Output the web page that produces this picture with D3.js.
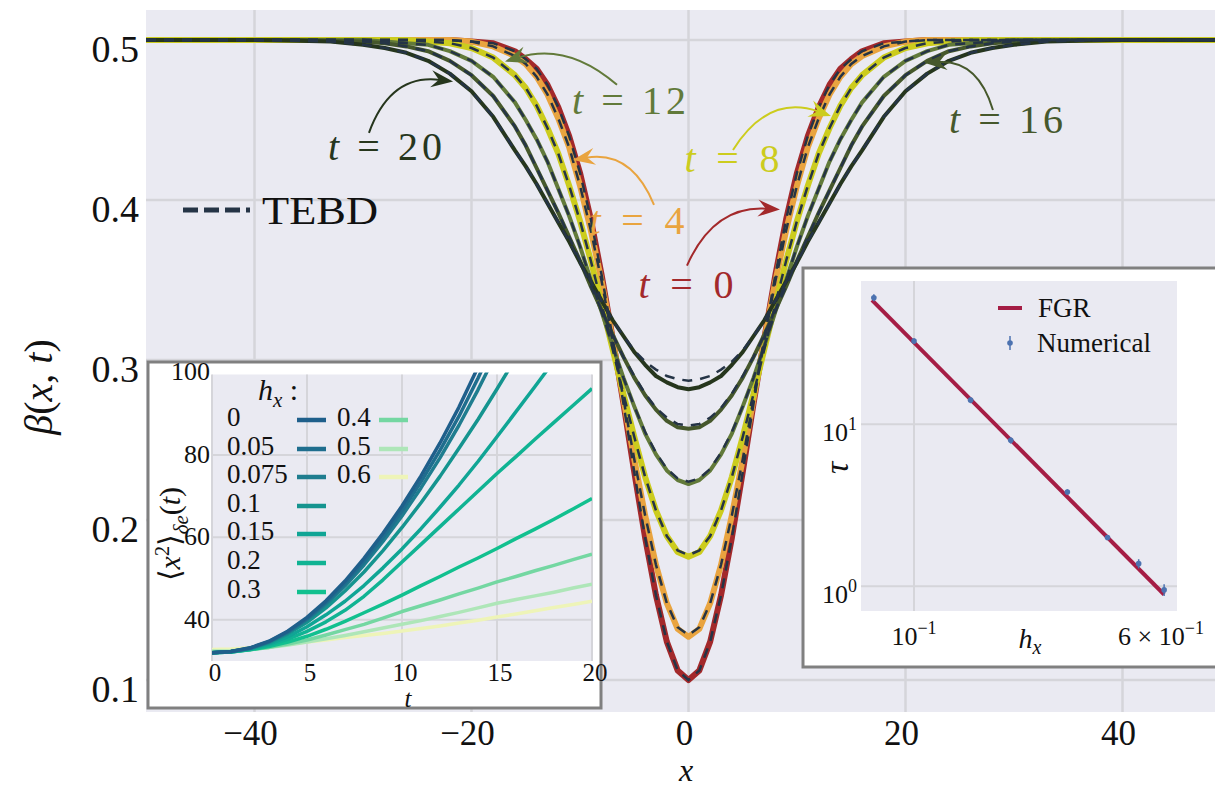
<!DOCTYPE html>
<html>
<head>
<meta charset="utf-8">
<script src="https://cdn.jsdelivr.net/npm/d3@7"></script>
<style>
body{margin:0;background:#fff;}
svg text{font-family:"Liberation Serif","DejaVu Serif",serif;fill:#111;}
</style>
</head>
<body>
<div id="chart"></div>
<script>
// ---------------- data ----------------
// profile beta(x,t), x >= 0 (profiles are symmetric in x)
var xHalf   = [0,1,2,3,4,5,6,7,8,9,10,11,12,13,14,15,16,18,20,22,24,26,28,30,33,36,40,50];
var beta_t0  = [0.100,0.106,0.124,0.153,0.189,0.230,0.273,0.314,0.353,0.388,0.417,0.440,0.458,0.472,0.482,0.488,0.493,0.498,0.499,0.500,0.500,0.500,0.500,0.500,0.500,0.500,0.500,0.500];
var beta_t4  = [0.127,0.132,0.148,0.172,0.203,0.238,0.276,0.313,0.349,0.381,0.409,0.433,0.451,0.466,0.477,0.485,0.490,0.496,0.499,0.500,0.500,0.500,0.500,0.500,0.500,0.500,0.500,0.500];
var beta_t8  = [0.177,0.180,0.190,0.206,0.227,0.252,0.279,0.307,0.335,0.362,0.387,0.409,0.429,0.445,0.459,0.470,0.478,0.489,0.495,0.498,0.499,0.500,0.500,0.500,0.500,0.500,0.500,0.500];
var beta_t12 = [0.2225,0.225,0.231,0.241,0.254,0.271,0.289,0.309,0.330,0.350,0.371,0.390,0.407,0.424,0.438,0.450,0.461,0.477,0.487,0.493,0.497,0.498,0.499,0.500,0.500,0.500,0.500,0.500];
var beta_t16 = [0.257,0.258,0.262,0.269,0.278,0.289,0.302,0.316,0.331,0.346,0.362,0.377,0.392,0.406,0.420,0.434,0.446,0.465,0.478,0.487,0.493,0.496,0.498,0.499,0.4995,0.500,0.500,0.500];
var beta_t20 = [0.2817,0.283,0.286,0.290,0.297,0.305,0.315,0.325,0.337,0.349,0.361,0.374,0.386,0.398,0.410,0.421,0.431,0.452,0.468,0.479,0.487,0.492,0.495,0.497,0.499,0.4995,0.500,0.500];
// TEBD curves (dashed)
var tebd_t0  = [0.100,0.106,0.124,0.153,0.189,0.230,0.273,0.314,0.353,0.388,0.417,0.440,0.458,0.472,0.482,0.488,0.493,0.498,0.499,0.500,0.500,0.500,0.500,0.500,0.500,0.500,0.500,0.500];
var tebd_t4  = [0.128,0.133,0.148,0.172,0.203,0.238,0.276,0.313,0.349,0.381,0.409,0.433,0.451,0.466,0.477,0.485,0.490,0.496,0.499,0.500,0.500,0.500,0.500,0.500,0.500,0.500,0.500,0.500];
var tebd_t8  = [0.178,0.181,0.190,0.206,0.227,0.252,0.279,0.307,0.335,0.362,0.387,0.409,0.429,0.445,0.459,0.470,0.478,0.489,0.495,0.498,0.499,0.500,0.500,0.500,0.500,0.500,0.500,0.500];
var tebd_t12 = [0.224,0.226,0.232,0.242,0.255,0.271,0.289,0.309,0.330,0.350,0.371,0.390,0.407,0.424,0.438,0.450,0.461,0.477,0.487,0.493,0.497,0.498,0.499,0.500,0.500,0.500,0.500,0.500];
var tebd_t16 = [0.259,0.260,0.264,0.270,0.279,0.290,0.302,0.316,0.331,0.346,0.362,0.377,0.392,0.406,0.420,0.434,0.446,0.465,0.478,0.487,0.493,0.496,0.498,0.499,0.4995,0.500,0.500,0.500];
var tebd_t20 = [0.287,0.288,0.290,0.294,0.299,0.306,0.315,0.325,0.337,0.349,0.361,0.374,0.386,0.398,0.410,0.421,0.431,0.452,0.468,0.479,0.487,0.492,0.495,0.497,0.499,0.4995,0.500,0.500];
var times    = [0,4,8,12,16,20];
var xTicks   = [-40,-20,0,20,40];
var yTicks   = [0.1,0.2,0.3,0.4,0.5];

// inset 1: <x^2>(t) for several h_x
var tGrid   = [0,1,2,3,4,5,6,7,8,9,10,11,12,13,14,15,16,17,18,19,20];
var hxLabels = ["0","0.05","0.075","0.1","0.15","0.2","0.3","0.4","0.5","0.6"];
var msd_h0    = [32.0,32.3,33.2,34.8,37.3,40.6,44.6,49.4,54.9,61.0,67.6,74.9,82.9,91.6,101.3,111.5];
var msd_h005  = [32.0,32.3,33.1,34.7,37.1,40.3,44.2,48.8,54.1,60.0,66.4,73.5,81.1,89.4,98.6,108.5];
var msd_h0075 = [32.0,32.3,33.1,34.6,36.9,40.0,43.8,48.2,53.3,59.0,65.2,72.0,79.3,87.2,95.8,105.0];
var msd_h01   = [32.0,32.3,33.0,34.4,36.6,39.4,42.9,47.0,51.6,56.8,62.4,68.4,74.8,81.6,88.6,96.0,103.6];
var msd_h015  = [32.0,32.2,32.9,34.1,35.9,38.3,41.2,44.5,48.3,52.6,57.2,62.1,67.3,72.7,78.4,84.4,90.5,96.6,102.8];
var msd_h02   = [32.0,32.2,32.8,33.8,35.3,37.2,39.5,42.3,45.7,49.7,54.0,58.3,62.6,66.9,71.2,75.5,79.6,83.8,87.9,92.0,96.1];
var msd_h03   = [32.0,32.2,32.7,33.5,34.6,36.0,37.7,39.6,41.7,43.8,46.0,48.3,50.5,52.8,55.0,57.3,59.7,62.0,64.4,66.9,69.4];
var msd_h04   = [32.2,32.3,32.7,33.3,34.1,35.1,36.3,37.6,38.9,40.4,42.0,43.4,44.8,46.3,47.7,49.2,50.5,51.9,53.2,54.6,55.9];
var msd_h05   = [32.4,32.5,32.8,33.3,33.9,34.6,35.4,36.2,37.1,38.0,38.9,39.8,40.8,41.8,42.9,44.0,44.9,45.8,46.7,47.7,48.6];
var msd_h06   = [32.8,32.9,33.2,33.6,34.1,34.6,35.1,35.7,36.2,36.7,37.3,37.9,38.5,39.2,39.9,40.7,41.4,42.2,43.0,43.7,44.5];
var msdTTicks = [0,5,10,15,20];
var msdYTicks = [40,60,80,100];

// inset 2: relaxation time tau vs h_x
var hxNum   = [0.075,0.1,0.15,0.2,0.3,0.4,0.5,0.6];
var tauNum  = [60.5,32.7,14.1,7.96,3.82,2.0,1.38,0.95];
var tauErr  = [3.0,1.3,0.6,0.35,0.15,0.07,0.09,0.08];
var hxFGR   = [0.074,0.6];
var tauFGR  = [58.5,0.89];

// ---------------- style / layout ----------------
var W=1215, H=789;
var BG="#eaeaf2", GRID="#d5d5da", FRAME="#808080";
var lineColors = ["#a3292b","#e9a43f","#cccc1e","#627a3a","#46582c","#26361d"];
var lineWidths = [6,6,6,4,4,4];
var tebdColor  = "#253446";
var hxColors = ["#1f5f8b","#1f6e8e","#1f7d8f","#15948f","#10a595","#10b393","#12c08f","#74d7a2","#aee6b8","#eef4b8"];
var annotations = [ // text and arrow anchors in data coordinates
    {t:"20", c:lineColors[5], tx:-27.97, ty:0.425, sx:-29.45, sy:0.442, ex:-21.7, ey:0.474, rad:0.4},
    {t:"12", c:lineColors[3], tx:-5.48,  ty:0.454, sx:-6.59,  sy:0.472, ex:-16.91,ey:0.4865,rad:-0.28},
    {t:"4",  c:lineColors[1], tx:-4.75,  ty:0.379, sx:-3.18,  sy:0.397, ex:-10.65,ey:0.425, rad:-0.4},
    {t:"0",  c:lineColors[0], tx:-0.23,  ty:0.339, sx:-0.14,  sy:0.359, ex:8.43,  ey:0.394, rad:0.35},
    {t:"8",  c:lineColors[2], tx:4.01,   ty:0.4175,sx:4.1,    sy:0.4313,ex:13.13, ey:0.4525,rad:0.4},
    {t:"16", c:lineColors[4], tx:29.26,  ty:0.442, sx:28.06,  sy:0.4563,ex:21.8,  ey:0.4856,rad:-0.4}
];

var svg=d3.select("#chart").append("svg").attr("width",W).attr("height",H);
var defs=svg.append("defs");

var mirror=function(xs,vs){
    var pts=[];
    for(var i=xs.length-1;i>0;i--) pts.push([-xs[i],vs[i]]);
    for(var j=0;j<xs.length;j++) pts.push([xs[j],vs[j]]);
    return pts;
};
var mathText=function(sel,parts){
    parts.forEach(function(p){
        var ts=sel.append("tspan").text(p.t).style("font-style",p.i?"italic":"normal");
        if(p.dy) ts.attr("dy",p.dy);
        if(p.s) ts.attr("font-size",p.s);
    });
    return sel;
};

// ---------------- main axes ----------------
var x=d3.scaleLinear().domain([-50,50]).range([146,1231]);
var y=d3.scaleLinear().domain([0.08,0.51875]).range([712,10]);

defs.append("clipPath").attr("id","clipMain").append("rect")
    .attr("x",x(-50)).attr("y",y(0.51875)).attr("width",x(50)-x(-50)).attr("height",y(0.08)-y(0.51875));

var main=svg.append("g");
main.append("rect").attr("x",x(-50)).attr("y",y(0.51875))
    .attr("width",x(50)-x(-50)).attr("height",y(0.08)-y(0.51875)).attr("fill",BG);
main.selectAll(".vgrid").data(xTicks).enter().append("line")
    .attr("x1",function(d){return x(d);}).attr("x2",function(d){return x(d);})
    .attr("y1",y(0.51875)).attr("y2",y(0.08)).attr("stroke",GRID).attr("stroke-width",2.5);
main.selectAll(".hgrid").data(yTicks).enter().append("line")
    .attr("x1",x(-50)).attr("x2",x(50))
    .attr("y1",function(d){return y(d);}).attr("y2",function(d){return y(d);})
    .attr("stroke",GRID).attr("stroke-width",2.5);

var lineMain=d3.line().x(function(d){return x(d[0]);}).y(function(d){return y(d[1]);});
var curves=[beta_t0,beta_t4,beta_t8,beta_t12,beta_t16,beta_t20];
var tebds=[tebd_t0,tebd_t4,tebd_t8,tebd_t12,tebd_t16,tebd_t20];
var plotG=main.append("g").attr("clip-path","url(#clipMain)");
curves.forEach(function(vs,i){
    plotG.append("path").attr("d",lineMain(mirror(xHalf,vs)))
        .attr("fill","none").attr("stroke",lineColors[i]).attr("stroke-width",lineWidths[i])
        .attr("stroke-linejoin","round");
});
tebds.forEach(function(vs){
    plotG.append("path").attr("d",lineMain(mirror(xHalf,vs)))
        .attr("fill","none").attr("stroke",tebdColor).attr("stroke-width",2.5)
        .attr("stroke-dasharray","10,8");
});

// tick labels
main.selectAll(".xtl").data(xTicks).enter().append("text")
    .attr("x",function(d){return x(d)-4;}).attr("y",745)
    .attr("text-anchor","middle").attr("font-size",35)
    .text(function(d){return d<0?"\u2212"+Math.abs(d):String(d);});
main.selectAll(".ytl").data(yTicks).enter().append("text")
    .attr("x",139).attr("y",function(d){return y(d)+13;})
    .attr("text-anchor","end").attr("dominant-baseline","middle").attr("font-size",38)
    .text(function(d){return d3.format(".1f")(d);});
main.append("text").attr("x",686).attr("y",781).attr("text-anchor","middle")
    .attr("font-size",32).style("font-style","italic").text("x");
mathText(main.append("text").attr("transform","translate(52,387) rotate(-90)")
    .attr("text-anchor","middle").attr("font-size",40),
    [{t:"\u03b2",i:1},{t:"("},{t:"x",i:1},{t:", "},{t:"t",i:1},{t:")"}]);

// legend TEBD
main.append("line").attr("x1",183).attr("x2",250).attr("y1",210).attr("y2",210)
    .attr("stroke",tebdColor).attr("stroke-width",5).attr("stroke-dasharray","15,6")
    .attr("stroke-linecap","butt");
main.append("text").attr("x",262).attr("y",224).attr("font-size",40)
    .attr("textLength",116).attr("lengthAdjust","spacingAndGlyphs").text("TEBD");

// annotations
annotations.forEach(function(a){
    var sx=x(a.sx), sy=y(a.sy), ex=x(a.ex), ey=y(a.ey);
    var dx=ex-sx, dy=ey-sy;
    var cx=(sx+ex)/2+a.rad*dy, cy=(sy+ey)/2-a.rad*dx;
    var ang=Math.atan2(ey-cy,ex-cx);
    var L=22, w=8.5;
    var bx=ex-Math.cos(ang)*L*0.6, by=ey-Math.sin(ang)*L*0.6;
    main.append("path").attr("d","M"+sx+","+sy+" Q"+cx+","+cy+" "+bx+","+by)
        .attr("fill","none").attr("stroke",a.c).attr("stroke-width",2);
    var rot=function(px,py){
        return [ex+px*Math.cos(ang)-py*Math.sin(ang), ey+px*Math.sin(ang)+py*Math.cos(ang)];
    };
    var head=[rot(0,0),rot(-L,w),rot(-L*0.65,0),rot(-L,-w)];
    main.append("path").attr("d","M"+head.map(function(p){return p.join(",");}).join("L")+"Z")
        .attr("fill",a.c);
    var tx=main.append("text").attr("x",x(a.tx)).attr("y",y(a.ty))
        .attr("text-anchor","middle").attr("font-size",40)
        .attr("textLength",a.t.length>1?114:95).attr("lengthAdjust","spacing");
    mathText(tx,[{t:"t",i:1},{t:" = "},{t:a.t}]);
    tx.selectAll("tspan").style("fill",a.c);
});

// ---------------- inset 1 : <x^2>(t) ----------------
var in1=svg.append("g");
in1.append("rect").attr("x",148).attr("y",362).attr("width",453).attr("height",346)
    .attr("fill","#fff").attr("stroke",FRAME).attr("stroke-width",3);
var xs=d3.scaleLinear().domain([0,20]).range([212,592]);
var ys=d3.scaleLinear().domain([30,100]).range([661,372.5]);
in1.append("rect").attr("x",xs(0)).attr("y",ys(100)+2).attr("width",xs(20)-xs(0))
    .attr("height",ys(30)-ys(100)-2).attr("fill",BG);
defs.append("clipPath").attr("id","clipIn1").append("rect")
    .attr("x",xs(0)).attr("y",ys(100)).attr("width",xs(20)-xs(0)).attr("height",ys(30)-ys(100));
in1.selectAll(".vg").data(msdTTicks).enter().append("line")
    .attr("x1",function(d){return xs(d);}).attr("x2",function(d){return xs(d);})
    .attr("y1",ys(100)+2).attr("y2",ys(30)).attr("stroke",GRID).attr("stroke-width",2);
in1.selectAll(".hg").data(msdYTicks.slice(0,3)).enter().append("line")
    .attr("x1",xs(0)).attr("x2",xs(20))
    .attr("y1",function(d){return ys(d);}).attr("y2",function(d){return ys(d);})
    .attr("stroke",GRID).attr("stroke-width",2);
var msdSeries=[msd_h0,msd_h005,msd_h0075,msd_h01,msd_h015,msd_h02,msd_h03,msd_h04,msd_h05,msd_h06];
var lineIn1=d3.line().x(function(d,i){return xs(tGrid[i]);}).y(function(d){return ys(d);});
var in1Lines=in1.append("g").attr("clip-path","url(#clipIn1)");
for(var k=msdSeries.length-1;k>=0;k--){
    in1Lines.append("path").attr("d",lineIn1(msdSeries[k])).attr("fill","none")
        .attr("stroke",hxColors[k]).attr("stroke-width",3.5).attr("stroke-linejoin","round");
}
in1.selectAll(".xt").data(msdTTicks).enter().append("text")
    .attr("x",function(d){return xs(d)+3;}).attr("y",681).attr("text-anchor","middle")
    .attr("font-size",25).text(function(d){return d;});
in1.selectAll(".yt").data(msdYTicks).enter().append("text")
    .attr("x",210).attr("y",function(d){return ys(d)+2;}).attr("text-anchor","end")
    .attr("dominant-baseline","middle").attr("font-size",26).text(function(d){return d;});
in1.append("text").attr("x",408).attr("y",707).attr("text-anchor","middle")
    .attr("font-size",25).style("font-style","italic").text("t");
mathText(in1.append("text").attr("transform","translate(180,534) rotate(-90)")
    .attr("text-anchor","middle").attr("font-size",30),
    [{t:"\u27e8"},{t:"x",i:1},{t:"2",dy:-11,s:20},{t:"\u27e9",dy:11},{t:"\u03b4e",i:1,dy:8,s:21},{t:"(",dy:-8},{t:"t",i:1},{t:")"}]);
// legend
mathText(in1.append("text").attr("x",258).attr("y",400).attr("font-size",30),
    [{t:"h",i:1},{t:"x",i:1,dy:7,s:21},{t:" :",dy:-7}]);
var legRows=[420,449,477,506,534,563,592];
hxLabels.forEach(function(lab,i){
    var col=i<7?0:1, row=i<7?i:i-7;
    var lx=col?337:227, hx=col?379:297;
    in1.append("text").attr("x",lx).attr("y",legRows[row]).attr("dominant-baseline","middle")
        .attr("font-size",27).text(lab);
    in1.append("line").attr("x1",hx).attr("x2",hx+29).attr("y1",legRows[row]).attr("y2",legRows[row])
        .attr("stroke",hxColors[i]).attr("stroke-width",4.5);
});

// ---------------- inset 2 : tau(h_x) ----------------
var in2=svg.append("g");
in2.append("rect").attr("x",803).attr("y",268).attr("width",430).attr("height",399)
    .attr("fill","#fff").attr("stroke",FRAME).attr("stroke-width",3);
var xr=d3.scaleLog().domain([0.0684,0.658]).range([861,1177]);
var yr=d3.scaleLog().domain([0.704,76.7]).range([611,281]);
in2.append("rect").attr("x",861).attr("y",281).attr("width",316).attr("height",330).attr("fill",BG);
in2.append("line").attr("x1",xr(0.1)).attr("x2",xr(0.1)).attr("y1",281).attr("y2",611)
    .attr("stroke",GRID).attr("stroke-width",2);
in2.selectAll(".hg2").data([1,10]).enter().append("line")
    .attr("x1",861).attr("x2",1177)
    .attr("y1",function(d){return yr(d);}).attr("y2",function(d){return yr(d);})
    .attr("stroke",GRID).attr("stroke-width",2);
var lineIn2=d3.line().x(function(d,i){return xr(hxFGR[i]);}).y(function(d){return yr(d);});
in2.append("path").attr("d",lineIn2(tauFGR)).attr("fill","none")
    .attr("stroke","#a51d45").attr("stroke-width",4);
var pts=in2.selectAll(".pt").data(hxNum).enter().append("g");
pts.append("line").attr("x1",function(d){return xr(d);}).attr("x2",function(d){return xr(d);})
    .attr("y1",function(d,i){return yr(tauNum[i]+tauErr[i]);})
    .attr("y2",function(d,i){return yr(tauNum[i]-tauErr[i]);})
    .attr("stroke","#4c72b0").attr("stroke-width",1.5);
pts.append("circle").attr("cx",function(d){return xr(d);}).attr("cy",function(d,i){return yr(tauNum[i]);})
    .attr("r",2.8).attr("fill","#4c72b0");
var pow10=function(g,px,py,anchor,pre,base,ex){
    var t=g.append("text").attr("x",px).attr("y",py).attr("text-anchor",anchor).attr("font-size",26);
    mathText(t,[{t:pre+base},{t:ex,dy:-11,s:18}]);
};
pow10(in2,857,441,"end","","10","1");
pow10(in2,857,603,"end","","10","0");
pow10(in2,914,645,"middle","","10","\u22121");
pow10(in2,1161,645,"middle","6 \u00d7 ","10","\u22121");
mathText(in2.append("text").attr("x",1030).attr("y",648).attr("text-anchor","middle").attr("font-size",28),
    [{t:"h",i:1},{t:"x",i:1,dy:6,s:20}]);
in2.append("text").attr("transform","translate(848,468) rotate(-90)").attr("text-anchor","middle")
    .attr("font-size",34).style("font-style","italic").text("\u03c4");
// legend
in2.append("line").attr("x1",998).attr("x2",1022).attr("y1",308).attr("y2",308)
    .attr("stroke","#a51d45").attr("stroke-width",4);
in2.append("text").attr("x",1038).attr("y",317).attr("font-size",27).text("FGR");
in2.append("line").attr("x1",1010).attr("x2",1010).attr("y1",336).attr("y2",350)
    .attr("stroke","#4c72b0").attr("stroke-width",1.5);
in2.append("circle").attr("cx",1010).attr("cy",343).attr("r",2.8).attr("fill","#4c72b0");
in2.append("text").attr("x",1037).attr("y",352).attr("font-size",27).text("Numerical");
</script>
</body>
</html>
